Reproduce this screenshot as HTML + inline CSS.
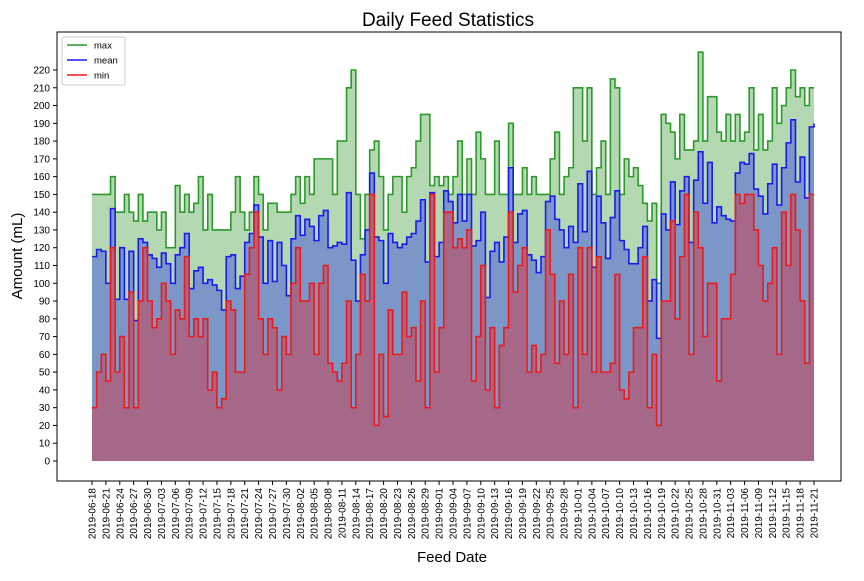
<!DOCTYPE html>
<html><head><meta charset="utf-8"><style>
body{margin:0;background:#fff;}
svg text{font-family:"Liberation Sans","DejaVu Sans",sans-serif;fill:#000;}
</style></head><body>
<svg id="chart" width="864" height="576" xmlns="http://www.w3.org/2000/svg"></svg>
<script>
const startDate = "2019-06-18";
const maxValues = [150,150,150,150,160,140,140,150,140,135,150,135,140,140,130,140,120,120,155,140,150,140,145,160,130,150,130,130,130,130,140,160,
140,130,140,160,150,130,145,145,140,140,140,150,160,145,160,150,170,170,170,170,150,180,180,210,220,150,125,150,175,180,160,
130,150,160,160,140,160,165,180,195,195,155,160,155,160,150,160,180,150,170,150,185,170,150,150,180,150,150,190,150,150,165,150,
160,150,150,150,170,185,150,160,165,210,210,180,210,150,165,180,150,215,210,150,170,160,165,155,145,135,145,100,195,190,185,
170,195,175,175,180,230,180,205,205,185,180,195,180,195,180,185,210,175,195,175,180,210,190,200,210,220,205,210,200,210,210];
const meanValues = [115,119,118,100,142,91,120,91,118,79,125,123,116,114,109,117,111,100,116,120,128,97,107,109,100,102,99,96,85,115,116,97,
104,123,128,144,126,100,124,101,123,110,93,125,138,127,136,132,124,138,141,120,121,123,122,151,113,90,116,130,162,126,124,
100,128,123,120,122,126,128,135,147,112,151,115,123,152,146,134,150,135,150,121,124,140,92,118,123,112,126,165,123,139,141,116,
113,106,115,146,149,136,130,120,132,123,156,129,163,109,149,134,114,137,152,124,119,111,111,120,132,90,102,69,139,130,157,
133,152,160,123,158,174,145,168,134,143,138,136,135,162,168,167,173,153,149,139,156,167,144,165,179,192,157,171,148,188,190];
const minValues = [30,50,60,45,120,50,70,30,95,30,90,120,90,75,80,100,90,60,85,80,115,70,80,70,80,40,50,30,35,90,85,50,
50,105,120,140,80,60,80,75,40,70,60,100,120,90,90,100,60,100,110,55,50,45,55,90,30,60,105,90,150,20,60,
25,85,60,60,95,70,75,45,90,30,150,50,75,140,140,120,125,120,130,45,70,110,40,75,30,65,75,140,95,110,120,50,
65,50,60,130,105,55,90,60,105,30,120,60,120,50,115,50,50,55,105,40,35,50,75,75,115,30,60,20,90,90,135,
80,115,150,60,140,120,70,100,100,45,80,80,105,150,145,150,150,130,110,90,100,120,60,140,110,150,130,90,55,150,150];
const yTicks = [0,10,20,30,40,50,60,70,80,90,100,110,120,130,140,150,160,170,180,190,200,210,220];

const NS="http://www.w3.org/2000/svg";
const svg=document.getElementById('chart');
const N=maxValues.length;
const X0=92, X1=814, Y0=461, PXU=(461-70)/220;
function xs(i){return X0+(X1-X0)*i/(N-1);}
function ys(v){return Y0-v*PXU;}
function el(tag,attrs,parent){const e=document.createElementNS(NS,tag);for(const k in attrs)e.setAttribute(k,attrs[k]);(parent||svg).appendChild(e);return e;}
function stepPath(vals){let d='M'+xs(0)+','+ys(vals[0]);for(let i=1;i<vals.length;i++){d+='H'+xs(i)+'V'+ys(vals[i]);}return d;}
function fillPath(vals){return stepPath(vals)+'V'+Y0+'H'+xs(0)+'Z';}

const series=[
 {name:'max',vals:maxValues,fill:'#b4d9b2',line:'#2a9a2a'},
 {name:'mean',vals:meanValues,fill:'#7b97c8',line:'#1a1af0'},
 {name:'min',vals:minValues,fill:'#a56889',line:'#ee1a1a'}];
series.forEach(s=>{
 const f=el('path',{d:fillPath(s.vals),fill:s.fill,stroke:'none'});
 
 
});
series.forEach(s=>{
 const l=el('path',{d:stepPath(s.vals),fill:'none',stroke:s.line,'stroke-width':1.6});
 
 
});
// spines
const frame=el('rect',{x:57,y:32,width:784,height:449,fill:'none',stroke:'#000','stroke-width':1});


// y ticks
yTicks.forEach(v=>{
 el('line',{x1:53,x2:57,y1:ys(v),y2:ys(v),stroke:'#000'});
 const t=el('text',{x:50,y:ys(v)+3.5,'text-anchor':'end','font-size':10});
 t.textContent=v;
 
 
});
// x ticks
const d0=new Date(startDate+'T00:00:00Z');
for(let i=0;i<N;i+=3){
 const x=xs(i);
 el('line',{x1:x,x2:x,y1:481,y2:485,stroke:'#000'});
 const d=new Date(d0.getTime()+i*86400000);
 const lab=d.toISOString().slice(0,10);
 const t=el('text',{x:0,y:0,'text-anchor':'end','font-size':10,transform:'translate('+(x+3.5)+',488) rotate(-90)'});
 t.textContent=lab;
 
 
}
</script>
<svg style="position:absolute;left:0;top:0" width="864" height="576" xmlns="http://www.w3.org/2000/svg">
 <text x="448" y="26" text-anchor="middle" font-size="19">Daily Feed Statistics</text>
 <text transform="translate(22,256) rotate(-90)" text-anchor="middle" font-size="15">Amount (mL)</text>
 <text x="452" y="562" text-anchor="middle" font-size="15">Feed Date</text>
 <g>
  <rect x="62" y="37" width="63" height="48" rx="2" fill="#fff" fill-opacity="0.85" stroke="#ccc"/>
  <line x1="67" x2="87" y1="45" y2="45" stroke="#2a9a2a" stroke-width="1.6"/>
  <text x="94" y="48.5" font-size="9.5">max</text>
  <line x1="67" x2="87" y1="60" y2="60" stroke="#1a1af0" stroke-width="1.6"/>
  <text x="94" y="63.5" font-size="9.5">mean</text>
  <line x1="67" x2="87" y1="75" y2="75" stroke="#ee1a1a" stroke-width="1.6"/>
  <text x="94" y="78.5" font-size="9.5">min</text>
 </g>
</svg>
</body></html>
